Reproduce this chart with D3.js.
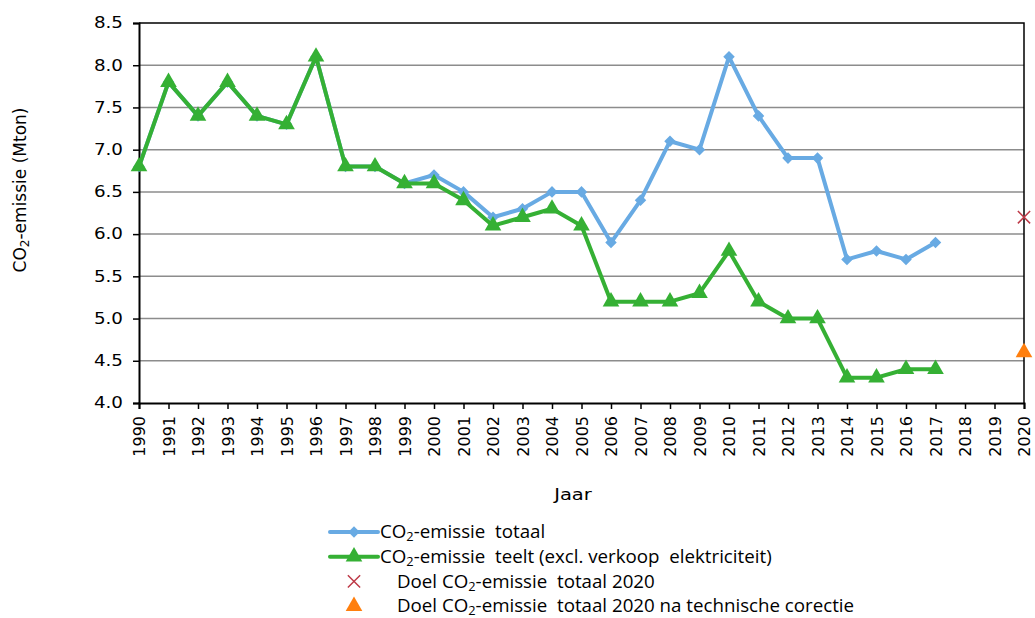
<!DOCTYPE html>
<html><head><meta charset="utf-8">
<script src="https://cdn.jsdelivr.net/npm/d3@7"></script>
<style>body{margin:0;background:#fff}svg{display:block}
.tf{font-family:"DejaVu Sans";font-size:15px}
.xf{font-family:"DejaVu Sans";font-size:16px}
.lf{font-family:"Open Sans";font-size:17.5px}
</style>
</head><body>
<svg id="c" width="1035" height="618"></svg>
<script>
const years = d3.range(1990, 2021);
const dataYears = d3.range(1990, 2018);
const totaal = [6.8,7.8,7.4,7.8,7.4,7.3,8.1,6.8,6.8,6.6,6.7,6.5,6.2,6.3,6.5,6.5,5.9,6.4,7.1,7.0,8.1,7.4,6.9,6.9,5.7,5.8,5.7,5.9];
const teelt  = [6.8,7.8,7.4,7.8,7.4,7.3,8.1,6.8,6.8,6.6,6.6,6.4,6.1,6.2,6.3,6.1,5.2,5.2,5.2,5.3,5.8,5.2,5.0,5.0,4.3,4.3,4.4,4.4];
const doelYear = 2020;
const doelTotaal = 6.2;
const doelCorrectie = 4.6;
const yTicks = [4.0,4.5,5.0,5.5,6.0,6.5,7.0,7.5,8.0,8.5];
const legendLabels = [
  ["CO","2","-emissie  totaal"],
  ["CO","2","-emissie  teelt (excl. verkoop  elektriciteit)"],
  ["Doel CO","2","-emissie  totaal 2020"],
  ["Doel CO","2","-emissie  totaal 2020 na technische corectie"]
];
const cBlue="#68aae3", cGreen="#35b034", cRed="#be3a48", cOrange="#ff7f0e";

const svg = d3.select("#c");
const L=139, R=1024, T=23, B=403;
const SX = 1.22;
const x = d3.scaleLinear().domain([1990,2020]).range([L,R]);
const y = d3.scaleLinear().domain([4,8.5]).range([B,T]);

svg.append("g").selectAll("line").data(yTicks.filter(v=>v>4&&v<8.5)).join("line")
  .attr("x1",L).attr("x2",R).attr("y1",d=>y(d)).attr("y2",d=>y(d))
  .attr("stroke","#8c8c8c").attr("stroke-width",1.5);

svg.append("path").attr("d",`M${L},${T}H${R}V${B}`).attr("fill","none").attr("stroke","#000").attr("stroke-width",1.5);

const yAxis = svg.append("g").attr("transform",`translate(${L},0)`)
  .call(d3.axisLeft(y).tickValues(yTicks).tickFormat(d3.format(".1f")).tickSize(6));
const xAxis = svg.append("g").attr("transform",`translate(0,${B})`)
  .call(d3.axisBottom(x).tickValues(years).tickFormat(d=>String(d)).tickSize(6));
[yAxis,xAxis].forEach(a=>{
  a.attr("font-family",null).attr("font-size",null);
  a.select(".domain").attr("stroke","#000").attr("stroke-width",2);
  a.selectAll(".tick line").attr("stroke","#000").attr("stroke-width",1.5);
  a.selectAll("text").attr("fill","#000");
});
yAxis.selectAll("text").attr("class","tf").attr("x",0).attr("transform",`translate(-16,0) scale(${SX},1)`);
xAxis.selectAll("text").attr("class","xf").attr("transform","rotate(-90)").attr("text-anchor","end")
  .attr("x",-13).attr("y",0).attr("dy","0.36em");

const yl = svg.append("text").attr("class","xf").style("font-size","17px")
  .attr("transform",`translate(26,190) rotate(-90)`).attr("text-anchor","middle").attr("fill","#000");
yl.append("tspan").text("CO");
yl.append("tspan").text("2").attr("font-size","12px").attr("dy","3");
yl.append("tspan").text("-emissie  (Mton)").attr("dy","-3");
svg.append("text").attr("class","xf").attr("transform",`translate(573,500) scale(${SX},1)`).attr("text-anchor","middle").text("Jaar");

const line = d3.line().x((d,i)=>x(dataYears[i])).y(d=>y(d));
svg.append("path").datum(totaal).attr("d",line).attr("fill","none").attr("stroke",cBlue).attr("stroke-width",4).attr("stroke-linejoin","round");
svg.append("g").selectAll("path").data(totaal).join("path")
  .attr("d",d3.symbol(d3.symbolDiamond2,85)).attr("transform",(d,i)=>`translate(${x(dataYears[i])},${y(d)})`).attr("fill",cBlue);
svg.append("path").datum(teelt).attr("d",line).attr("fill","none").attr("stroke",cGreen).attr("stroke-width",4).attr("stroke-linejoin","round");
svg.append("g").selectAll("path").data(teelt).join("path")
  .attr("d",d3.symbol(d3.symbolTriangle,120)).attr("transform",(d,i)=>`translate(${x(dataYears[i])},${y(d)})`).attr("fill",cGreen);

svg.append("path").attr("d",d3.symbol(d3.symbolTimes,100)).attr("transform",`translate(${x(doelYear)},${y(doelTotaal)})`)
  .attr("fill","none").attr("stroke",cRed).attr("stroke-width",1.5);
svg.append("path").attr("d",d3.symbol(d3.symbolTriangle,120)).attr("transform",`translate(${x(doelYear)},${y(doelCorrectie)})`).attr("fill",cOrange);

const lg = svg.append("g").attr("transform","translate(330,532)");
legendLabels.forEach((lab,i)=>{
  const g = lg.append("g").attr("transform",`translate(0,${i*24.7})`);
  if(i===0){
    g.append("line").attr("x1",0).attr("x2",48).attr("stroke",cBlue).attr("stroke-width",4).attr("stroke-linecap","round");
    g.append("path").attr("d",d3.symbol(d3.symbolDiamond2,85)).attr("transform","translate(24,0)").attr("fill",cBlue);
  } else if(i===1){
    g.append("line").attr("x1",0).attr("x2",48).attr("stroke",cGreen).attr("stroke-width",4).attr("stroke-linecap","round");
    g.append("path").attr("d",d3.symbol(d3.symbolTriangle,120)).attr("transform","translate(24,0)").attr("fill",cGreen);
  } else if(i===2){
    g.append("path").attr("d",d3.symbol(d3.symbolTimes,100)).attr("transform","translate(24,0)").attr("fill","none").attr("stroke",cRed).attr("stroke-width",1.5);
  } else {
    g.append("path").attr("d",d3.symbol(d3.symbolTriangle,120)).attr("transform","translate(24,0)").attr("fill",cOrange);
  }
  const t = g.append("text").attr("class","lf").attr("transform",`translate(${i<2?50:67},0) scale(1.07,1)`).attr("dy","0.36em")
    .attr("fill","#000").style("white-space","pre");
  t.append("tspan").text(lab[0]);
  t.append("tspan").text(lab[1]).attr("font-size","12px").attr("dy","3");
  t.append("tspan").text(lab[2]).attr("dy","-3");
});
</script>
</body></html>
